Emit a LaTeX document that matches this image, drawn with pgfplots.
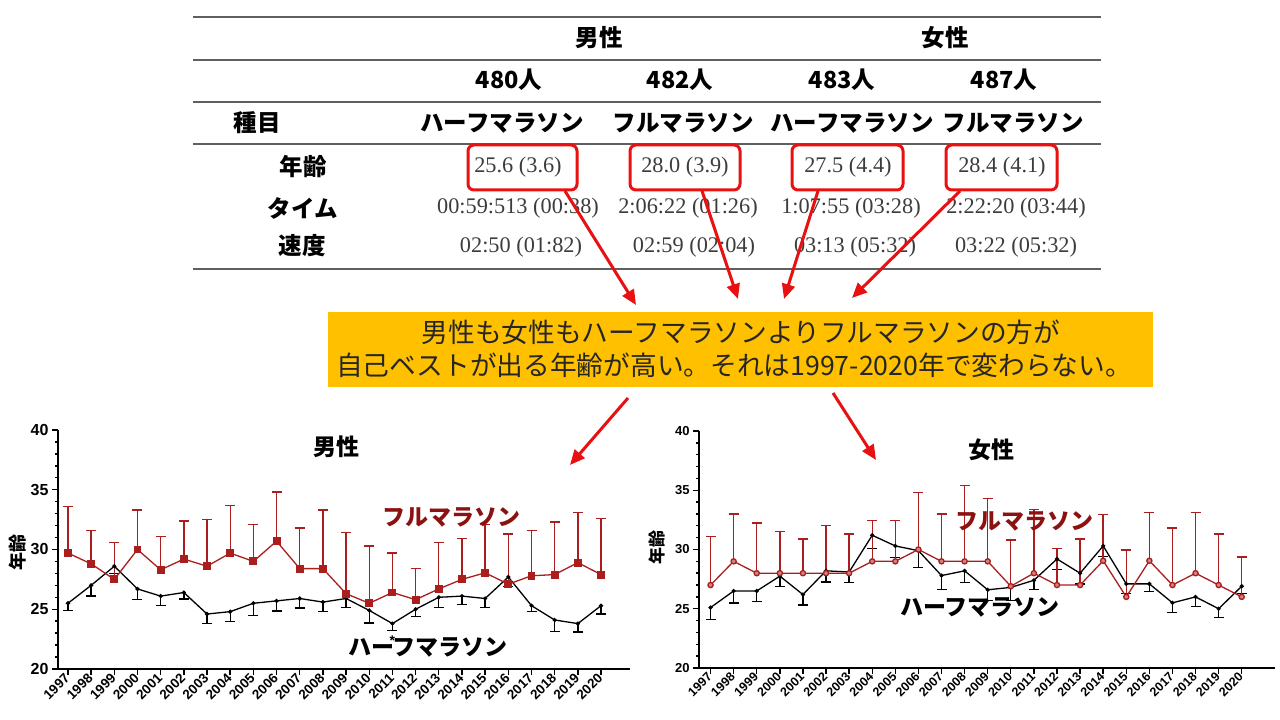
\documentclass[border=0pt]{standalone}
\usepackage{pgfplots}
\pgfplotsset{compat=1.18}
\usepackage{pgfplotstable}
\usepackage{fontspec}
\usetikzlibrary{arrows.meta}
\setmainfont{Liberation Sans}
\newfontfamily\cjk{Noto Sans CJK JP}
\newfontfamily\numserif{Liberation Serif}
\definecolor{fullred}{RGB}{170,30,30}
\definecolor{txtred}{RGB}{140,18,18}
\definecolor{boxorange}{RGB}{255,192,0}
\definecolor{arrowred}{RGB}{232,16,16}
\definecolor{rulegray}{RGB}{95,95,95}
\definecolor{numgray}{RGB}{60,60,60}

\pgfplotstableread{
year full ferr half herr
1997 29.7 3.9 25.5 0.6
1998 28.8 2.8 27.0 0.9
1999 27.5 3.1 28.6 0.6
2000 30.0 3.3 26.7 0.9
2001 28.3 2.8 26.1 0.8
2002 29.2 3.2 26.4 0.55
2003 28.6 3.9 24.6 0.8
2004 29.7 4.0 24.8 0.85
2005 29.0 3.1 25.5 1.0
2006 30.7 4.1 25.7 0.85
2007 28.4 3.4 25.9 0.8
2008 28.4 4.9 25.6 0.8
2009 26.3 5.1 25.9 0.75
2010 25.5 4.8 24.9 1.05
2011 26.4 3.3 23.8 0.6
2012 25.8 2.6 25.0 0.6
2013 26.7 3.9 26.0 0.85
2014 27.5 3.4 26.1 0.7
2015 28.05 4.05 25.9 0.75
2016 27.1 4.2 27.7 0.8
2017 27.8 3.8 25.3 0.5
2018 27.9 4.4 24.1 0.95
2019 28.9 4.2 23.8 0.7
2020 27.9 4.7 25.3 0.7
}\menTable

\pgfplotstableread{
year full ferr half herr
1997 27.0 4.1 25.1 1.0
1998 29.0 4.0 26.5 1.0
1999 28.0 4.25 26.5 0.9
2000 28.0 3.5 27.75 0.85
2001 28.0 2.9 26.2 0.9
2002 28.0 4.0 28.2 0.95
2003 28.0 3.3 28.1 0.9
2004 29.0 3.45 31.2 1.1
2005 29.0 3.45 30.3 0.95
2006 30.0 4.8 29.9 1.4
2007 29.0 4.0 27.8 1.2
2008 29.0 6.4 28.2 1.0
2009 29.0 5.3 26.6 0.9
2010 26.9 3.9 26.8 1.1
2011 28.0 5.4 27.4 0.8
2012 27.0 3.1 29.2 0.9
2013 27.0 3.9 28.0 0.9
2014 29.05 3.9 30.3 0.9
2015 26.0 3.96 27.1 0.8
2016 29.05 4.05 27.1 0.65
2017 27.0 4.8 25.5 0.8
2018 28.0 5.1 26.0 0.8
2019 27.0 4.3 25.0 0.75
2020 26.0 3.35 26.9 0.6
}\womenTable

\pgfplotsset{
  chartstyle/.style={
    scale only axis,
    anchor=south west,
    ymin=20, ymax=40,
    ytick={20,25,30,35,40},
    minor y tick num=4,
    xtick={1997,...,2020},
    xticklabels={1997,1998,1999,2000,2001,2002,2003,2004,2005,2006,2007,2008,2009,2010,2011,2012,2013,2014,2015,2016,2017,2018,2019,2020},
    scaled x ticks=false,
    axis x line*=bottom,
    axis y line*=left,
    axis line style={-, line width=2pt, black},
    tick align=outside,
    major tick length=6pt,
    minor tick length=3.5pt,
    every tick/.style={black, line width=1.4pt},
    /pgf/number format/assume math mode=true,
    /pgf/number format/set thousands separator={},
    xticklabel style={rotate=45, anchor=east, inner sep=1pt},
    clip=false,
  },
  halfstyle/.style={
    black, line width=1.3pt, mark=*, mark size=1.4pt,
    error bars/y dir=minus, error bars/y explicit,
    error bars/error bar style={line width=1.4pt, black},
    error bars/error mark options={rotate=90, mark size=5pt, line width=1.4pt, black}
  },
  fullstyle/.style={
    fullred, line width=1.3pt,
    error bars/y dir=plus, error bars/y explicit,
    error bars/error bar style={line width=1.4pt, fullred},
    error bars/error mark options={rotate=90, mark size=5pt, line width=1.4pt, fullred}
  },
}

\newcommand\hd{\cjk\bfseries\fontsize{23.5}{26}\selectfont}
\newcommand\nm{\numserif\fontsize{22.3}{24}\selectfont\color{numgray}}
\newcommand\ann{\cjk\bfseries\fontsize{23}{26}\selectfont}

\begin{document}
\begin{tikzpicture}
\useasboundingbox (0,0) rectangle (1280pt,720pt);

% ---------- left chart (men) ----------
\begin{axis}[chartstyle,
  at={(58pt,51pt)}, width=572pt, height=239pt,
  xmin=1996.57, xmax=2021.25,
  yticklabel style={font=\bfseries\fontsize{16}{16}\selectfont},
  xticklabel style={font=\bfseries\fontsize{13.5}{13.5}\selectfont},
]
\addplot[halfstyle] table[x=year, y=half, y error=herr]{\menTable};
\addplot[fullstyle, mark=square*, mark size=3.3pt, mark options={fill=fullred}] table[x=year, y=full, y error=ferr]{\menTable};
\node[font=\bfseries\fontsize{14}{14}\selectfont] at (axis cs:2011,22.4) {*};
\end{axis}

% ---------- right chart (women) ----------
\begin{axis}[chartstyle,
  at={(699pt,52pt)}, width=576pt, height=237pt,
  xmin=1996.5, xmax=2021.44,
  yticklabel style={font=\bfseries\fontsize{13}{13}\selectfont},
  xticklabel style={font=\bfseries\fontsize{12.5}{12.5}\selectfont},
]
\addplot[halfstyle] table[x=year, y=half, y error=herr]{\womenTable};
\addplot[fullstyle, mark=*, mark size=2.6pt, mark options={fill=fullred!55, draw=fullred}] table[x=year, y=full, y error=ferr]{\womenTable};
\end{axis}

% ---------- slide annotations ----------
\begin{scope}[x=1pt, y=-1pt, shift={(0pt,720pt)}]
  % table rules
  \foreach \yy in {17,60,102,144,269}
    \draw[rulegray, line width=1.2pt] (193,\yy) -- (1101,\yy);
  % header
  \node[font=\hd] at (599,38) {男性};
  \node[font=\hd] at (945,38) {女性};
  \node[font=\hd] at (509,80) {480人};
  \node[font=\hd] at (680,80) {482人};
  \node[font=\hd] at (842,80) {483人};
  \node[font=\hd] at (1004,80) {487人};
  \node[font=\hd] at (257,123) {種目};
  \node[font=\hd] at (502,123) {ハーフマラソン};
  \node[font=\hd] at (683,123) {フルマラソン};
  \node[font=\hd] at (852,123) {ハーフマラソン};
  \node[font=\hd] at (1013,123) {フルマラソン};
  \node[font=\hd] at (303,167) {年齢};
  \node[font=\hd] at (303,208) {タイム};
  \node[font=\hd] at (302,246) {速度};
  % data
  \node[font=\nm] at (518,167) {25.6 (3.6)};
  \node[font=\nm] at (518,208) {00:59:513 (00:38)};
  \node[font=\nm] at (521,247) {02:50 (01:82)};
  \node[font=\nm] at (685,167) {28.0 (3.9)};
  \node[font=\nm] at (688,208) {2:06:22 (01:26)};
  \node[font=\nm] at (694,247) {02:59 (02:04)};
  \node[font=\nm] at (848,167) {27.5 (4.4)};
  \node[font=\nm] at (851,208) {1:07:55 (03:28)};
  \node[font=\nm] at (855,247) {03:13 (05:32)};
  \node[font=\nm] at (1002,167) {28.4 (4.1)};
  \node[font=\nm] at (1016,208) {2:22:20 (03:44)};
  \node[font=\nm] at (1016,247) {03:22 (05:32)};
  % red boxes
  \foreach \xa/\xb in {468/577, 630/740, 792/903, 946/1057}
    \draw[arrowred, line width=3pt, rounded corners=6pt] (\xa,145) rectangle (\xb,190);
  % arrows
  \begin{scope}[arrowred, line width=3pt, -{Triangle[length=15pt,width=13pt]}]
    \draw (565,191) -- (636,305);
    \draw (702,191) -- (738,299);
    \draw (818,191) -- (784,299);
    \draw (960,191) -- (852,298);
    \draw (628,398) -- (570,465);
    \draw (833,393) -- (876,460);
  \end{scope}
  % orange box
  \fill[boxorange] (328,312) rectangle (1153,387);
  \node[font=\cjk\fontsize{26.7}{30}\selectfont, text=black!85] at (741,332) {男性も女性もハーフマラソンよりフルマラソンの方が};
  \node[font=\cjk\fontsize{26.7}{30}\selectfont, text=black!85] at (734,365) {自己ベストが出る年齢が高い。それは1997-2020年で変わらない。};
  % chart labels
  \node[font=\ann] at (336,447) {男性};
  \node[font=\ann] at (991,450) {女性};
  \node[font=\ann, text=txtred] at (451,517) {フルマラソン};
  \node[font=\ann] at (428,647) {ハーフマラソン};
  \node[font=\ann, text=txtred] at (1024,521) {フルマラソン};
  \node[font=\ann] at (980,607) {ハーフマラソン};
  \node[font=\cjk\bfseries\fontsize{18}{18}\selectfont, rotate=90] at (18,553) {年齢};
  \node[font=\cjk\bfseries\fontsize{17}{17}\selectfont, rotate=90] at (657,548) {年齢};
\end{scope}
\end{tikzpicture}
\end{document}
